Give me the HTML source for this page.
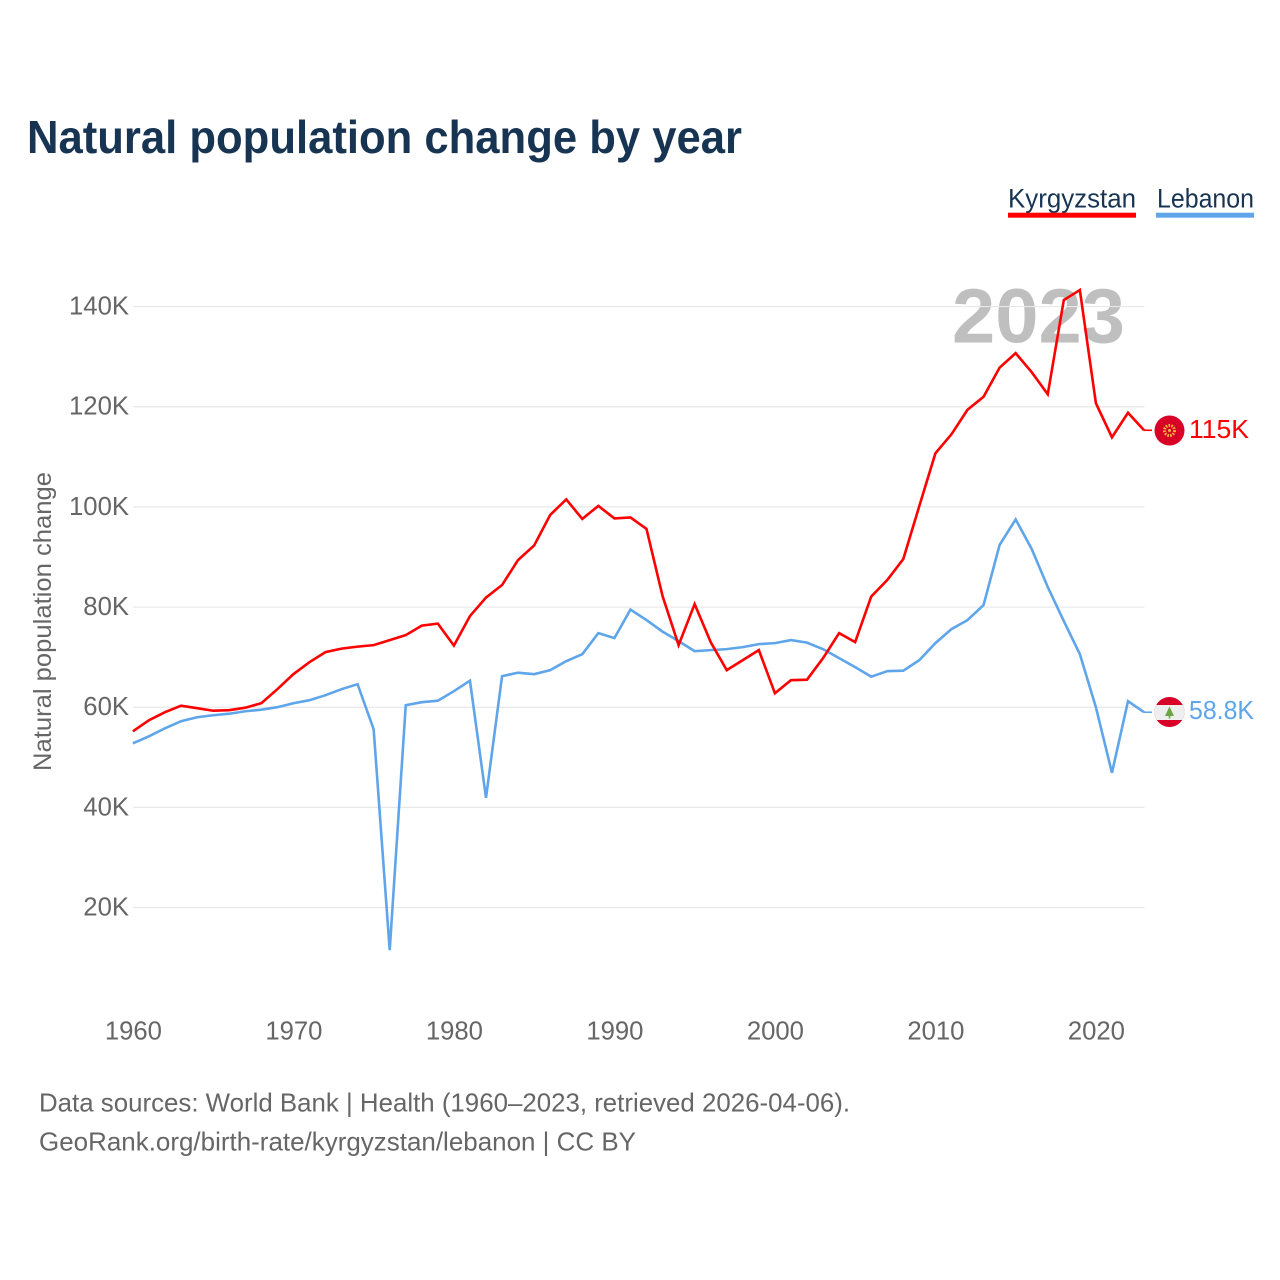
<!DOCTYPE html>
<html lang="en">
<head>
<meta charset="utf-8">
<title>Natural population change by year</title>
<style>
html,body{margin:0;padding:0;background:#fff;width:1280px;height:1280px;overflow:hidden}
svg{display:block}
text{font-family:"Liberation Sans",sans-serif}
</style>
</head>
<body>
<svg id="chart" width="1280" height="1280" viewBox="0 0 1280 1280" xmlns="http://www.w3.org/2000/svg">
<rect width="1280" height="1280" fill="#ffffff"/>
<text x="27" y="153" font-size="46" font-weight="700" fill="#183453" textLength="715" lengthAdjust="spacingAndGlyphs">Natural population change by year</text>

<g>
<text x="1008" y="207.5" font-size="27" fill="#183453" textLength="128" lengthAdjust="spacingAndGlyphs">Kyrgyzstan</text>
<rect x="1008" y="212.7" width="128" height="5" fill="#ff0000"/>
</g>
<g>
<text x="1157" y="207.5" font-size="27" fill="#183453" textLength="97" lengthAdjust="spacingAndGlyphs">Lebanon</text>
<rect x="1156" y="212.7" width="98" height="5" fill="#5fa5ea"/>
</g>

<text x="952" y="342.5" font-size="77" font-weight="700" fill="#bfbfbf" textLength="173" lengthAdjust="spacingAndGlyphs">2023</text>

<g id="grid"></g>
<g id="yticks"></g>
<g id="xticks"></g>
<text transform="translate(51,771) rotate(-90)" font-size="25" fill="#666666" textLength="299" lengthAdjust="spacingAndGlyphs">Natural population change</text>
<g id="series"></g>

<g id="flag-kg">
<circle cx="1169.5" cy="430.5" r="15" fill="#d80027"/>
<circle cx="1169.5" cy="430.5" r="5" fill="none" stroke="#f0b83a" stroke-width="3" stroke-dasharray="1.6 1.2"/>
<circle cx="1169.5" cy="430.5" r="1.5" fill="#f0b83a"/>
</g>
<g id="flag-lb">
<clipPath id="lb-clip"><circle cx="1169.5" cy="712" r="15"/></clipPath>
<g clip-path="url(#lb-clip)">
<rect x="1154" y="697" width="31" height="31" fill="#d80027"/>
<rect x="1154" y="705" width="31" height="15" fill="#eeeeee"/>
</g>
<polygon points="1169.5,706.5 1174,716 1170.3,716 1170.3,718.5 1168.7,718.5 1168.7,716 1165,716" fill="#6da544"/>
</g>
<text x="1189" y="438" font-size="26" fill="#ff0000" textLength="60" lengthAdjust="spacingAndGlyphs">115K</text>
<text x="1189" y="719" font-size="26" fill="#5fa5ea" textLength="65" lengthAdjust="spacingAndGlyphs">58.8K</text>

<text x="39" y="1111.5" font-size="26" fill="#666666" textLength="811" lengthAdjust="spacingAndGlyphs">Data sources: World Bank | Health (1960–2023, retrieved 2026-04-06).</text>
<text x="39" y="1150.5" font-size="26" fill="#666666" textLength="597" lengthAdjust="spacingAndGlyphs">GeoRank.org/birth-rate/kyrgyzstan/lebanon | CC BY</text>
</svg>
<script>
var years = [1960,1961,1962,1963,1964,1965,1966,1967,1968,1969,1970,1971,1972,1973,1974,1975,1976,1977,1978,1979,1980,1981,1982,1983,1984,1985,1986,1987,1988,1989,1990,1991,1992,1993,1994,1995,1996,1997,1998,1999,2000,2001,2002,2003,2004,2005,2006,2007,2008,2009,2010,2011,2012,2013,2014,2015,2016,2017,2018,2019,2020,2021,2022,2023];
var kyrgyzstan = [55.2,57.4,59,60.3,59.8,59.3,59.4,59.9,60.8,63.6,66.6,69,71,71.7,72.1,72.4,73.4,74.4,76.3,76.7,72.3,78.2,81.9,84.4,89.4,92.3,98.4,101.5,97.6,100.2,97.7,97.9,95.6,82.2,72.4,80.6,73,67.4,69.4,71.4,62.8,65.4,65.5,69.8,74.8,73,82.1,85.4,89.6,100.2,110.7,114.5,119.4,122,127.8,130.7,126.9,122.5,141.3,143.3,120.7,113.9,118.8,115.3];
var lebanon = [52.8,54.2,55.8,57.2,58,58.4,58.7,59.2,59.5,60,60.8,61.4,62.4,63.6,64.6,55.6,11.5,60.4,61,61.3,63.2,65.3,41.9,66.2,66.9,66.6,67.4,69.2,70.6,74.8,73.8,79.5,77.4,75.1,73.2,71.2,71.4,71.6,72,72.6,72.8,73.4,72.9,71.6,69.8,68,66.1,67.2,67.3,69.4,72.8,75.6,77.4,80.4,92.4,97.5,91.6,84,77.2,70.6,60,46.9,61.2,59];
var yTickValues = [20,40,60,80,100,120,140];
var yTickLabels = ["20K","40K","60K","80K","100K","120K","140K"];
var xTickValues = [1960,1970,1980,1990,2000,2010,2020];
var xTickLabels = ["1960","1970","1980","1990","2000","2010","2020"];

var NS = 'http://www.w3.org/2000/svg';
function xScale(year){ return 132.9 + (year - 1960) * 16.05; }
function yScale(v){ return 1007.7 - v * 5.008; }
function make(tag, attrs, parent){
  var el = document.createElementNS(NS, tag);
  for (var k in attrs) el.setAttribute(k, attrs[k]);
  parent.appendChild(el);
  return el;
}
var grid = document.getElementById('grid');
var yG = document.getElementById('yticks');
var xG = document.getElementById('xticks');
var seriesG = document.getElementById('series');

yTickValues.forEach(function(v, i){
  var y = yScale(v);
  var line = make('line', {x1:132.9, x2:1144.5, y1:y, y2:y, stroke:'#e8e8e8', 'stroke-width':1.2}, grid);
  
  
  var t = make('text', {x:129, y:y + 8, 'text-anchor':'end', 'font-size':25.7, fill:'#666666'}, yG);
  t.textContent = yTickLabels[i];
  
  
});
xTickValues.forEach(function(v, i){
  var t = make('text', {x:xScale(v) + 0.5, y:1039.5, 'text-anchor':'middle', 'font-size':25.7, fill:'#666666'}, xG);
  t.textContent = xTickLabels[i];
  
  
});
function drawSeries(values, color, name){
  var pts = values.map(function(v, i){ return xScale(years[i]).toFixed(2) + ',' + yScale(v).toFixed(2); });
  var line = make('polyline', {points:pts.join(' '), fill:'none', stroke:color, 'stroke-width':2.6, 'stroke-linejoin':'miter'}, seriesG);
  
  
  var last = values[values.length - 1];
  var c = make('line', {x1:xScale(years[years.length - 1]), x2:1152, y1:yScale(last), y2:yScale(last), stroke:color, 'stroke-width':1.6}, seriesG);
  
  
}
drawSeries(lebanon, '#5fa5ea', 'lebanon');
drawSeries(kyrgyzstan, '#ff0000', 'kyrgyzstan');
</script>
</body>
</html>
